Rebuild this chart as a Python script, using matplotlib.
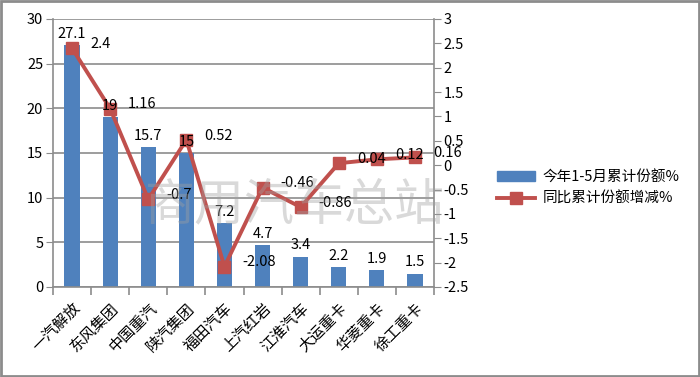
import matplotlib.pyplot as plt
import matplotlib.patches as mpatches
from matplotlib.lines import Line2D
import numpy as np

plt.rcParams['font.family'] = ['Noto Sans CJK SC', 'DejaVu Sans']

# データ
companies = ['一汽解放', '东风集团', '中国重汽', '陕汽集团', '福田汽车',
             '上汽红岩', '江淮汽车', '大运重卡', '华菱重卡', '徐工重卡']
share = [27.1, 19, 15.7, 15, 7.2, 4.7, 3.4, 2.2, 1.9, 1.5]
change = [2.4, 1.16, -0.7, 0.52, -2.08, -0.46, -0.86, 0.04, 0.12, 0.16]
share_labels = ['27.1', '19', '15.7', '15', '7.2', '4.7', '3.4', '2.2', '1.9', '1.5']
change_labels = ['2.4', '1.16', '-0.7', '0.52', '-2.08', '-0.46', '-0.86', '0.04', '0.12', '0.16']
left_ticks = [0, 5, 10, 15, 20, 25, 30]
right_ticks = [-2.5, -2, -1.5, -1, -0.5, 0, 0.5, 1, 1.5, 2, 2.5, 3]

bar_color = '#4F81BD'
line_color = '#C0504D'
grid_color = '#8c8c8c'

fig = plt.figure(figsize=(7.0, 3.77), dpi=100)
ax = fig.add_axes([53 / 700, 1 - 287 / 377, (434 - 53) / 700, (287 - 19) / 377])
x = np.arange(len(companies))

ax.bar(x, share, width=0.4, color=bar_color, zorder=2)
ax.set_xlim(-0.5, len(companies) - 0.5)
ax.set_ylim(0, 30)
ax.set_yticks(left_ticks)
ax.set_yticklabels([str(t) for t in left_ticks], fontsize=10.5)
ax.grid(axis='y', color=grid_color, linewidth=1.2, zorder=0)
for s in ['top', 'right']:
    ax.spines[s].set_visible(False)
for s in ['left', 'bottom']:
    ax.spines[s].set_color(grid_color)
    ax.spines[s].set_linewidth(1.2)
ax.tick_params(axis='y', direction='out', length=5, color=grid_color, pad=2)

# カテゴリ境界の目盛り
ax.set_xticks(x)
ax.set_xticklabels(companies, rotation=45, ha='right', rotation_mode='anchor', fontsize=11)
ax.set_xticks(np.arange(-0.5, len(companies), 1), minor=True)
ax.tick_params(axis='x', which='major', length=0, pad=9)
ax.tick_params(axis='x', which='minor', direction='out', length=6, color=grid_color, width=1.2)

ax2 = ax.twinx()
ax2.set_ylim(-2.5, 3)
ax2.set_yticks(right_ticks)
ax2.set_yticklabels([f'{t:g}' for t in right_ticks], fontsize=10.5)
for s in ['top', 'left', 'bottom']:
    ax2.spines[s].set_visible(False)
ax2.spines['right'].set_color(grid_color)
ax2.spines['right'].set_linewidth(1.2)
ax2.tick_params(axis='y', direction='out', length=5, color=grid_color, pad=2)
ax2.plot(x, change, color=line_color, linewidth=2.8, marker='s', markersize=9,
         markerfacecolor=line_color, markeredgecolor=line_color, zorder=3)

# データラベル（線より前面）
for xi, v, lab in zip(x, share, share_labels):
    ax2.annotate(lab, (xi, v), xycoords=ax.transData, xytext=(0, 3), textcoords='offset points',
                 ha='center', va='bottom', fontsize=10.5, zorder=5)
for xi, v, lab in zip(x, change, change_labels):
    ax2.annotate(lab, (xi, v), xytext=(13, 3), textcoords='offset points',
                 ha='left', va='center', fontsize=10.5, zorder=5)

# 透かし
fig.text(295 / 700, 1 - 205 / 377, '商用汽车总站', fontsize=36, color='#a0a0a0',
         alpha=0.4, ha='center', va='center', zorder=10)

# 凡例
handles = [mpatches.Patch(color=bar_color),
           Line2D([0], [0], color=line_color, linewidth=2.8, marker='s', markersize=9)]
fig.legend(handles, ['今年1-5月累计份额%', '同比累计份额增减%'], loc='center left',
           bbox_to_anchor=(484 / 700, 1 - 188 / 377), frameon=False, fontsize=10.5,
           handlelength=2.6, handletextpad=0.5, labelspacing=0.5)

# 外枠
fig.patches.append(mpatches.Rectangle((0.001, 0.002), 0.997, 0.995, transform=fig.transFigure,
                                      fill=False, edgecolor='#8c8c8c', linewidth=2))

fig.savefig('out.png', dpi=100)
